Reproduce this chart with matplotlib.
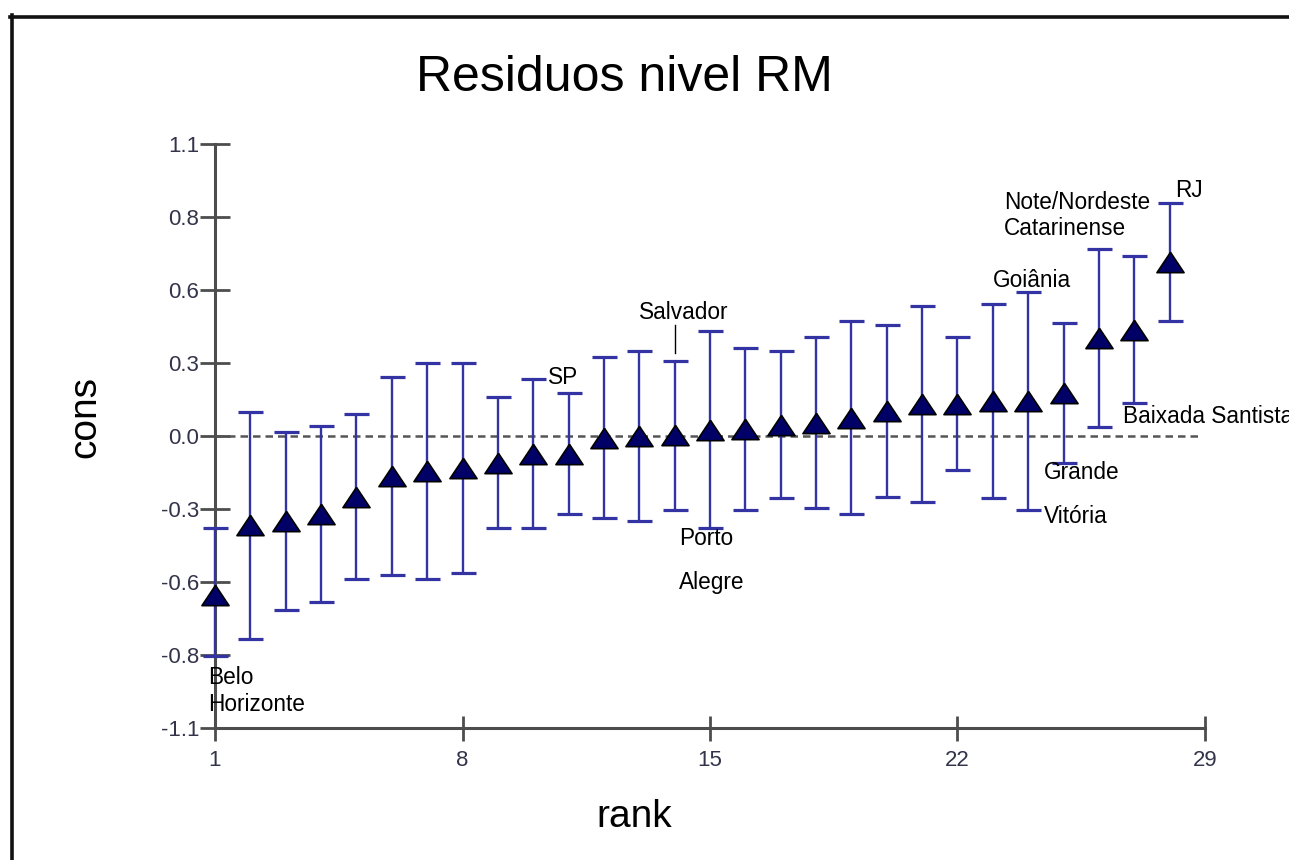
import matplotlib
matplotlib.use('Agg')
import matplotlib.pyplot as plt
import numpy as np
from matplotlib.lines import Line2D

plt.rcParams['font.family'] = ['Liberation Sans', 'DejaVu Sans']

######################################### DANE
rank = list(range(1, 29))
est = [-0.600, -0.337, -0.320, -0.293, -0.229, -0.150, -0.132, -0.120, -0.100, -0.066,
       -0.067, -0.006, 0.001, 0.002, 0.024, 0.026, 0.043, 0.050, 0.069, 0.096,
       0.120, 0.122, 0.131, 0.131, 0.162, 0.368, 0.400, 0.655]
lower = [-0.830, -0.765, -0.655, -0.624, -0.540, -0.524, -0.540, -0.517, -0.348, -0.348,
         -0.295, -0.310, -0.319, -0.279, -0.348, -0.279, -0.235, -0.272, -0.295, -0.229,
         -0.250, -0.128, -0.235, -0.279, -0.103, 0.033, 0.123, 0.434]
upper = [-0.347, 0.092, 0.016, 0.039, 0.083, 0.223, 0.276, 0.276, 0.148, 0.216,
         0.161, 0.299, 0.321, 0.284, 0.395, 0.330, 0.321, 0.372, 0.432, 0.420,
         0.490, 0.372, 0.496, 0.541, 0.427, 0.703, 0.678, 0.876]

y_ticks = [-1.1, -0.825, -0.55, -0.275, 0.0, 0.275, 0.55, 0.825, 1.1]
y_labels = ['-1.1', '-0.8', '-0.6', '-0.3', '0.0', '0.3', '0.6', '0.8', '1.1']
x_ticks = [1, 8, 15, 22, 29]

# etykiety miast (tekst, x, y)
labels = [
    ('Belo', 0.80, -0.911),
    ('Horizonte', 0.80, -1.013),
    ('SP', 10.42, 0.222),
    ('Salvador', 12.99, 0.467),
    ('Porto', 14.12, -0.388),
    ('Alegre', 14.12, -0.550),
    ('Goiânia', 23.0, 0.584),
    ('Note/Nordeste', 23.31, 0.881),
    ('Catarinense', 23.31, 0.780),
    ('RJ', 28.15, 0.923),
    ('Baixada Santista', 26.68, 0.072),
    ('Grande', 24.44, -0.139),
    ('Vitória', 24.44, -0.305),
]

######################################### WYKRES
fig = plt.figure(figsize=(12.89, 8.6), dpi=100)
ax = fig.add_axes([215 / 1289, 132 / 860, 990 / 1289, 584 / 860])

est_a = np.array(est)
yerr = [est_a - np.array(lower), np.array(upper) - est_a]

bar_col = '#3333a3'
ax.errorbar(rank, est, yerr=yerr, fmt='none', ecolor=bar_col, elinewidth=1.7,
            capsize=9, capthick=2.3, clip_on=False, zorder=3)

tri = [(0, 0.75), (-1, -0.75), (1, -0.75), (0, 0.75)]
ax.plot(rank, est, linestyle='none', marker=tri, markersize=19.5,
        markerfacecolor='#000066', markeredgecolor='black', markeredgewidth=1.2,
        clip_on=False, zorder=4)

ax.hlines(0, 1, 28.8, colors='#555555', linestyles=(0, (3, 2)), linewidth=1.8, zorder=2)

# kreska Salvador
ax.plot([14, 14], [0.313, 0.418], color='black', linewidth=1, zorder=5)

for txt, x, y in labels:
    ax.text(x, y, txt, fontsize=16.3, color='black', ha='left', va='center',
            clip_on=False, zorder=6)

ax.set_xlim(1, 29)
ax.set_ylim(-1.1, 1.1)
ax.set_yticks(y_ticks)
ax.set_yticklabels(y_labels)
ax.set_xticks(x_ticks)

axis_col = '#4d4d4d'
for s in ['top', 'right']:
    ax.spines[s].set_visible(False)
for s in ['left', 'bottom']:
    ax.spines[s].set_color(axis_col)
    ax.spines[s].set_linewidth(2.2)

ax.tick_params(axis='y', direction='inout', length=21, width=2, color=axis_col,
               labelsize=16, labelcolor='#33334a', pad=1)
ax.tick_params(axis='x', direction='inout', length=18, width=2, color=axis_col,
               labelsize=16, labelcolor='#33334a', pad=7)

fig.text(624 / 1289, 1 - 78 / 860, 'Residuos nivel RM', fontsize=36,
         ha='center', va='center')
fig.text(85 / 1289, 1 - 417 / 860, 'cons', fontsize=28, rotation=90,
         ha='center', va='center')
fig.text(634 / 1289, 1 - 817 / 860, 'rank', fontsize=28, ha='center', va='center')

# ramka
fig.add_artist(Line2D([11.5 / 1289, 11.5 / 1289], [0, 1 - 15 / 860],
                      transform=fig.transFigure, color='#111111', linewidth=2.6))
fig.add_artist(Line2D([10 / 1289, 1], [1 - 16.5 / 860, 1 - 16.5 / 860],
                      transform=fig.transFigure, color='#111111', linewidth=2.6))

fig.savefig('out.png', dpi=100)
